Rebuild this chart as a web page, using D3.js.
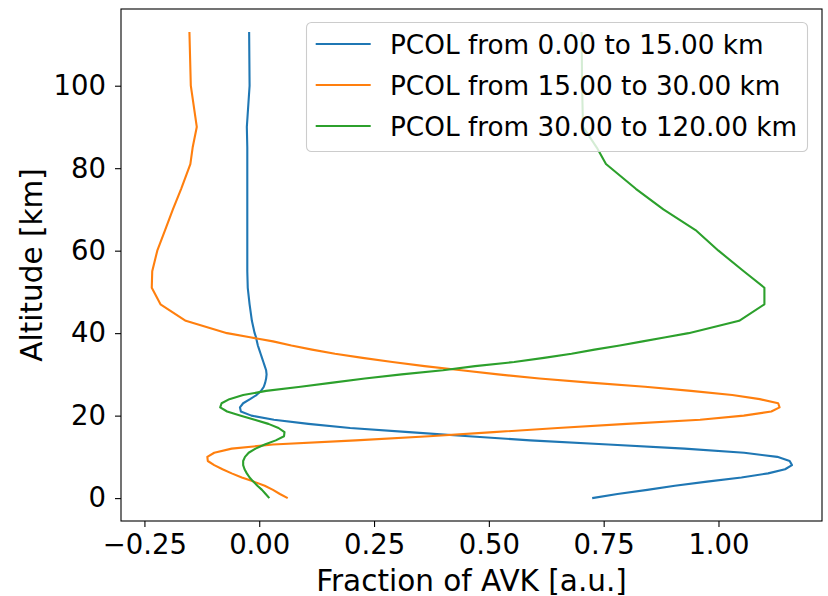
<html>
<head>
<meta charset="utf-8">
<script src="https://cdn.jsdelivr.net/npm/d3@7"></script>
<style>
body { margin: 0; background: #fff; }
text { font-family: "DejaVu Sans", sans-serif; }
</style>
</head>
<body>
<div id="canvas"></div>
<script>

var width = 828;
var height = 596;

// altitude grid [km]
var altitude = [0, 1, 2, 3, 4, 5, 6, 7, 8, 9, 10, 11, 12, 13, 14, 15, 16, 17, 18, 19,
    20, 21, 22, 23, 24, 25, 26, 27, 28, 29, 30, 31, 32, 33, 34, 35, 36, 37, 38, 39,
    40, 43, 47, 51, 55, 60, 65, 70, 75, 81, 85, 90, 100, 113];

var pcol0to15 = [0.725, 0.78, 0.845, 0.905, 0.975, 1.05, 1.108, 1.145, 1.16, 1.155,
    1.128, 1.056, 0.926, 0.76, 0.59, 0.456, 0.326, 0.198, 0.107, 0.032,
    -0.017, -0.04, -0.042, -0.035, -0.02, -0.006, 0.004, 0.010, 0.013, 0.015,
    0.016, 0.015, 0.012, 0.009, 0.006, 0.003, 0.0, -0.003, -0.005, -0.007,
    -0.01, -0.016, -0.021, -0.025, -0.026, -0.026, -0.026, -0.026, -0.026, -0.026,
    -0.026, -0.027, -0.021, -0.022];

var pcol15to30 = [0.062, 0.045, 0.03, 0.012, -0.012, -0.038, -0.06, -0.08, -0.098, -0.112,
    -0.113, -0.098, -0.06, 0.03, 0.21, 0.37, 0.51, 0.65, 0.80, 0.96,
    1.055, 1.115, 1.133, 1.13, 1.09, 1.03, 0.94, 0.84, 0.72, 0.61,
    0.52, 0.44, 0.36, 0.29, 0.225, 0.165, 0.115, 0.07, 0.03, -0.02,
    -0.07, -0.16, -0.215, -0.234, -0.233, -0.222, -0.205, -0.188, -0.17, -0.15,
    -0.145, -0.136, -0.149, -0.152];

var pcol30to120 = [0.022, 0.014, 0.006, -0.004, -0.013, -0.021, -0.027, -0.032, -0.035, -0.035,
    -0.031, -0.023, -0.008, 0.012, 0.036, 0.054, 0.055, 0.042, 0.02, -0.01,
    -0.04, -0.07, -0.085, -0.082, -0.065, -0.035, 0.015, 0.09, 0.16, 0.23,
    0.31, 0.40, 0.47, 0.555, 0.62, 0.68, 0.73, 0.785, 0.835, 0.885,
    0.935, 1.045, 1.1, 1.1, 1.055, 1.0, 0.95, 0.88, 0.82, 0.755,
    0.735, 0.705, 0.703, 0.702];

var seriesNames = ["PCOL from 0.00 to 15.00 km", "PCOL from 15.00 to 30.00 km", "PCOL from 30.00 to 120.00 km"];
var seriesColors = ["#1f77b4", "#ff7f0e", "#2ca02c"];
var seriesValues = [pcol0to15, pcol15to30, pcol30to120];

var xTicks = [-0.25, 0, 0.25, 0.5, 0.75, 1.0];
var yTicks = [0, 20, 40, 60, 80, 100];

var plotLeft = 121, plotRight = 822, plotTop = 9, plotBottom = 521;

var svg = d3.select("#canvas").append("svg").attr("width", width).attr("height", height);
svg.append("rect").attr("width", width).attr("height", height).attr("fill", "white");

var x = d3.scaleLinear().domain([-0.301, 1.2254]).range([plotLeft, plotRight]);
var y = d3.scaleLinear().domain([-5.55, 118.6]).range([plotBottom, plotTop]);

var xAxis = svg.append("g")
    .attr("transform", "translate(0," + plotBottom + ")")
    .call(d3.axisBottom(x).tickValues(xTicks).tickFormat(d3.format(".2f")).tickSize(6).tickPadding(7));
var yAxis = svg.append("g")
    .attr("transform", "translate(" + plotLeft + ",0)")
    .call(d3.axisLeft(y).tickValues(yTicks).tickSize(6).tickPadding(9));

[xAxis, yAxis].forEach(function(a) {
    a.select(".domain").remove();
    a.selectAll("line").attr("stroke", "black").attr("stroke-width", 1.1);
    a.selectAll("text").attr("fill", "black").style("font-size", "27.5px").attr("font-family", null);
});

var line = d3.line()
    .x(function(d) { return x(d[0]); })
    .y(function(d) { return y(d[1]); });

for (var s = 0; s < seriesValues.length; s++) {
    var pts = altitude.map(function(a, i) { return [seriesValues[s][i], a]; });
    svg.append("path")
        .attr("d", line(pts))
        .attr("fill", "none")
        .attr("stroke", seriesColors[s])
        .attr("stroke-width", 2.1)
        .attr("stroke-linejoin", "round");
}

// spines
svg.append("rect")
    .attr("x", plotLeft).attr("y", plotTop)
    .attr("width", plotRight - plotLeft).attr("height", plotBottom - plotTop)
    .attr("fill", "none").attr("stroke", "black").attr("stroke-width", 1.1);

// legend
var legend = svg.append("g");
legend.append("rect")
    .attr("x", 306.5).attr("y", 22.5).attr("width", 501).attr("height", 129)
    .attr("rx", 5).attr("ry", 5)
    .attr("fill", "white").attr("fill-opacity", 0.8)
    .attr("stroke", "#cccccc").attr("stroke-width", 1.1);
for (var k = 0; k < seriesNames.length; k++) {
    var ly = 44 + k * 41;
    legend.append("line")
        .attr("x1", 315.7).attr("x2", 370.7).attr("y1", ly).attr("y2", ly)
        .attr("stroke", seriesColors[k]).attr("stroke-width", 2.1);
    legend.append("text")
        .attr("x", 390).attr("y", ly + 10)
        .style("font-size", "26.3px")
        .text(seriesNames[k]);
}

// axis labels
svg.append("text")
    .attr("x", (plotLeft + plotRight) / 2).attr("y", 591)
    .attr("text-anchor", "middle")
    .style("font-size", "29.5px")
    .text("Fraction of AVK [a.u.]");
svg.append("text")
    .attr("transform", "translate(42," + (plotTop + plotBottom) / 2 + ") rotate(-90)")
    .attr("text-anchor", "middle")
    .style("font-size", "29.5px")
    .text("Altitude [km]");

</script>
</body>
</html>
